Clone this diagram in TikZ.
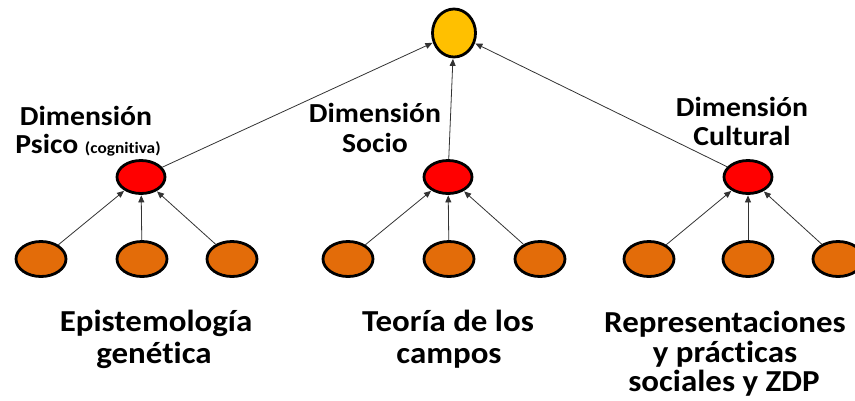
\documentclass[tikz,border=0pt]{standalone}
\usepackage{fontspec}
\setmainfont[RawFeature={-liga;-calt}]{Carlito}
\newfontfamily\widefont[FakeStretch=1.08,RawFeature={-liga;-calt}]{Carlito}
\usetikzlibrary{shapes.geometric,arrows.meta}
\definecolor{cyel}{HTML}{FFC000}
\definecolor{cred}{HTML}{FF0000}
\definecolor{corg}{HTML}{E36C09}
\tikzset{
  topnode/.style={ellipse,draw=black,line width=2.8pt,fill=cyel,minimum width=43pt,minimum height=48pt,inner sep=0pt},
  dimnode/.style={ellipse,draw=black,line width=2.8pt,fill=cred,minimum width=48pt,minimum height=33pt,inner sep=0pt},
  leafnode/.style={ellipse,draw=black,line width=2.8pt,fill=corg,minimum width=50pt,minimum height=35pt,inner sep=0pt},
  conn/.style={-{Triangle[length=7pt,width=6pt]},line width=0.8pt,black!80,shorten >=0.5pt},
  lbl/.style={font=\widefont\fontsize{27.5}{30}\selectfont\bfseries,inner sep=0pt,anchor=base},
  big/.style={font=\widefont\fontsize{30.5}{32}\selectfont\bfseries,inner sep=0pt,anchor=base}
}
\begin{document}
\begin{tikzpicture}[x=1pt,y=-1pt]
\useasboundingbox (0,0) rectangle (855,400);
\clip (0,0) rectangle (855,400);
\node[topnode] (top) at (454,33) {};
\node[dimnode] (psi) at (141,177) {};
\node[dimnode] (soc) at (448,177) {};
\node[dimnode] (cul) at (748,177) {};
\node[leafnode] (p1) at (41,259) {};
\node[leafnode] (p2) at (142,259) {};
\node[leafnode] (p3) at (232,259) {};
\node[leafnode] (s1) at (348,259) {};
\node[leafnode] (s2) at (449,259) {};
\node[leafnode] (s3) at (540,259) {};
\node[leafnode] (c1) at (649,259) {};
\node[leafnode] (c2) at (748,259) {};
\node[leafnode] (c3) at (838,259) {};
\foreach \a/\b in {p1/psi,p2/psi,p3/psi,s1/soc,s2/soc,s3/soc,c1/cul,c2/cul,c3/cul,psi/top,soc/top,cul/top}
  \draw[conn] (\a) -- (\b);
\node[lbl] (lpsiA) at (86,125) {Dimensión};
\node[lbl] (lpsiB) at (88,153) {Psico {\fontsize{16}{18}\selectfont (cognitiva)}};
\node[lbl] (lsocA) at (375,122) {Dimensión};
\node[lbl] (lsocB) at (375,152) {Socio};
\node[lbl] (lculA) at (742,116) {Dimensión};
\node[lbl] (lculB) at (742,145) {Cultural};
\node[big] (bpsiA) at (156,331) {Epistemología};
\node[big] (bpsiB) at (154,363) {genética};
\node[big] (bsocA) at (448,331) {Teoría de los};
\node[big] (bsocB) at (449,363) {campos};
\node[big] (bculA) at (725,332) {Representaciones};
\node[big] (bculB) at (725,362) {y prácticas};
\node[big] (bculC) at (724,391) {sociales y ZDP};
\end{tikzpicture}
\end{document}
